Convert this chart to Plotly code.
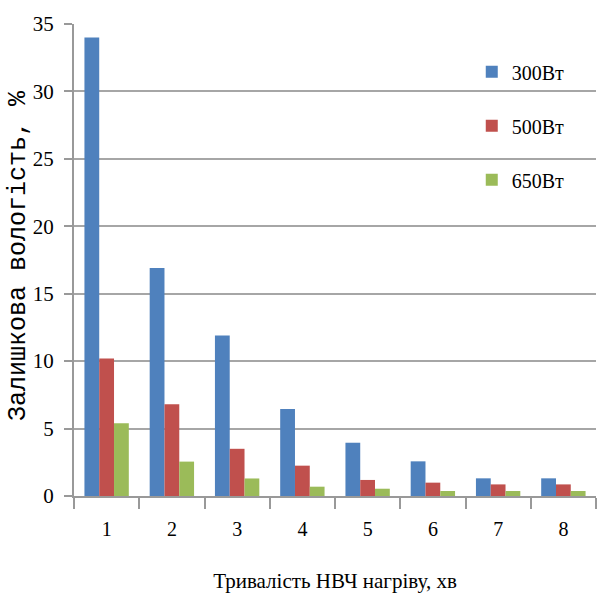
import plotly.graph_objects as go

categories = ["1", "2", "3", "4", "5", "6", "7", "8"]
series_names = ["300Вт", "500Вт", "650Вт"]
values_300 = [34.0, 16.9, 11.9, 6.45, 3.95, 2.57, 1.31, 1.31]
values_500 = [10.2, 6.8, 3.5, 2.25, 1.19, 0.99, 0.86, 0.86]
values_650 = [5.4, 2.55, 1.3, 0.69, 0.54, 0.37, 0.37, 0.37]
colors = ["#4F81BD", "#C0504D", "#9BBB59"]
y_ticks = [0, 5, 10, 15, 20, 25, 30, 35]
y_title = "Залишкова вологість, %"
x_title = "Тривалість НВЧ нагріву, хв"

fig = go.Figure()
for i, (name, vals) in enumerate(zip(series_names, [values_300, values_500, values_650])):
    fig.add_trace(go.Bar(x=categories, y=vals, name=name, marker_color=colors[i],
                         marker_line_width=0, legendgroup=name))

serif = "Liberation Serif, Times New Roman, serif"
fig.update_layout(
    width=598, height=601,
    margin=dict(l=74, r=2, t=24, b=105),
    paper_bgcolor="white", plot_bgcolor="white",
    barmode="group", bargap=0.32, bargroupgap=0,
    font=dict(family=serif, size=19, color="black"),
    legend=dict(x=0.762, xanchor="left", y=0.94, yanchor="top",
                bgcolor="rgba(0,0,0,0)", font=dict(family=serif, size=20),
                tracegroupgap=25, itemwidth=30),
    showlegend=True,
)
fig.add_annotation(
    text=y_title, xref="paper", yref="paper", x=-0.106, y=0.51,
    xanchor="center", yanchor="middle", textangle=-90, showarrow=False,
    font=dict(family="Liberation Mono", size=25, color="black"),
)
fig.update_xaxes(
    type="category", tickson="boundaries", ticks="outside", ticklen=11,
    tickcolor="#999999", tickwidth=2,
    showline=True, linecolor="#999999", linewidth=2, showgrid=False,
    ticklabelstandoff=14,
    tickfont=dict(family=serif, size=20),
    title=dict(text=x_title, font=dict(family=serif, size=21), standoff=34),
)
fig.update_yaxes(
    range=[0, 35], tickvals=y_ticks, ticks="outside", ticklen=8,
    tickcolor="#999999", tickwidth=2,
    showline=True, linecolor="#999999", linewidth=2,
    showgrid=True, gridcolor="#a6a6a6", gridwidth=2, zeroline=False,
    ticklabelstandoff=6,
    tickfont=dict(family=serif, size=21),
)
fig.write_html("out.html")
